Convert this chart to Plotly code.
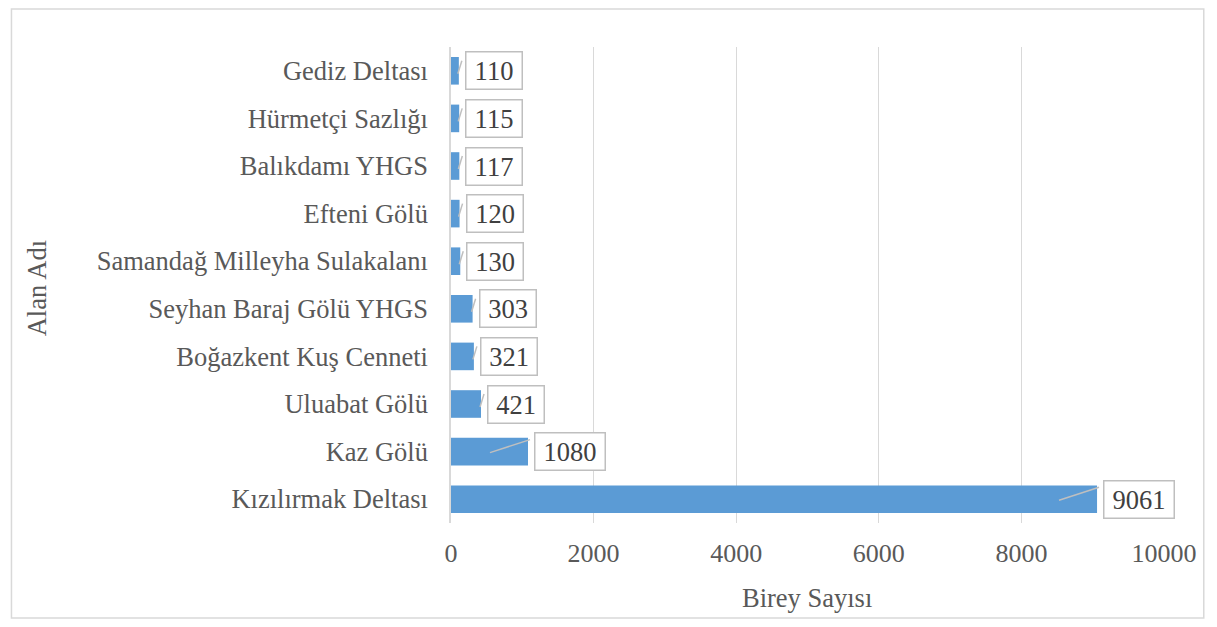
import plotly.graph_objects as go

categories = ["Gediz Deltası", "Hürmetçi Sazlığı", "Balıkdamı YHGS", "Efteni Gölü",
              "Samandağ Milleyha Sulakalanı", "Seyhan Baraj Gölü YHGS",
              "Boğazkent Kuş Cenneti", "Uluabat Gölü", "Kaz Gölü", "Kızılırmak Deltası"]
values = [110, 115, 117, 120, 130, 303, 321, 421, 1080, 9061]
x_ticks = [0, 2000, 4000, 6000, 8000, 10000]

OFF = 8  # page body margin
W, H = 1217 - 2 * OFF, 627 - 2 * OFF
L, T = 451 - OFF, 47 - OFF
R = OFF + W - 1168
B = OFF + H - 523
FONT = '"Liberation Serif", "Times New Roman", serif'
TXT = "#595959"

fig = go.Figure(go.Bar(
    x=values, y=categories, orientation="h",
    marker=dict(color="#5b9bd5", line=dict(width=0)),
    width=0.58, hoverinfo="x+y",
))

pw = W - L - R
ph = H - T - B
px_per_unit = pw / 10000.0


def px_x(px):
    return (px - OFF - L) / pw


def px_y(py):
    return 1 - (py - OFF - T) / ph


annotations = []
shapes = []
for c, v in zip(categories, values):
    lab = str(v)
    annotations.append(dict(
        x=v, y=c, xref="x", yref="y", text=lab, showarrow=False,
        xanchor="left", yanchor="middle", xshift=6,
        font=dict(family=FONT, size=26.5, color="#404040"),
        bordercolor="#bfbfbf", borderwidth=1.5, borderpad=3,
        bgcolor="white", width=14 * len(lab) + 7,
    ))
    bar_px = v * px_per_unit
    if bar_px > 60:
        x0, y0, x1, y1 = -38, -1, 2, 12
    else:
        x0, y0, x1, y1 = -1, -3, 3, 10
    shapes.append(dict(
        type="line", xref="x", yref="y", xsizemode="pixel", ysizemode="pixel",
        xanchor=v, yanchor=c, x0=x0, x1=x1, y0=y0, y1=y1,
        line=dict(color="#bfbfbf", width=1.5),
    ))

# axis titles
annotations.append(dict(
    x=px_x(809), y=px_y(598), xref="paper", yref="paper", text="Birey Sayısı",
    showarrow=False, xanchor="center", yanchor="middle",
    font=dict(family=FONT, size=26.5, color=TXT),
))
annotations.append(dict(
    x=px_x(35), y=px_y(288), xref="paper", yref="paper", text="Alan Adı",
    showarrow=False, xanchor="center", yanchor="middle", textangle=-90,
    font=dict(family=FONT, size=26.5, color=TXT),
))

# outer chart border
shapes.append(dict(
    type="rect", xref="paper", yref="paper",
    x0=px_x(OFF + 1), x1=px_x(OFF + W - 1), y0=px_y(OFF + H - 1), y1=px_y(OFF + 1),
    line=dict(color="#d9d9d9", width=1.5), fillcolor="rgba(0,0,0,0)", layer="below",
))

fig.update_layout(
    width=W, height=H, margin=dict(l=L, r=R, t=T, b=B),
    paper_bgcolor="white", plot_bgcolor="white",
    font=dict(family=FONT, color=TXT),
    showlegend=False, annotations=annotations, shapes=shapes,
    xaxis=dict(
        range=[0, 10000], tickvals=x_ticks, ticktext=[str(t) for t in x_ticks],
        showgrid=True, gridcolor="#d9d9d9", gridwidth=1.3, zeroline=False,
        showline=False, ticks="", tickfont=dict(family=FONT, size=26, color=TXT),
        ticklabelstandoff=12, fixedrange=True,
    ),
    yaxis=dict(
        categoryorder="array", categoryarray=categories, autorange="reversed",
        showgrid=False, zeroline=False, showline=True, linecolor="#d9d9d9", linewidth=1.5,
        ticks="", tickfont=dict(family=FONT, size=26.5, color=TXT), ticklabelstandoff=16,
        fixedrange=True,
    ),
)

fig.write_html("out.html")
